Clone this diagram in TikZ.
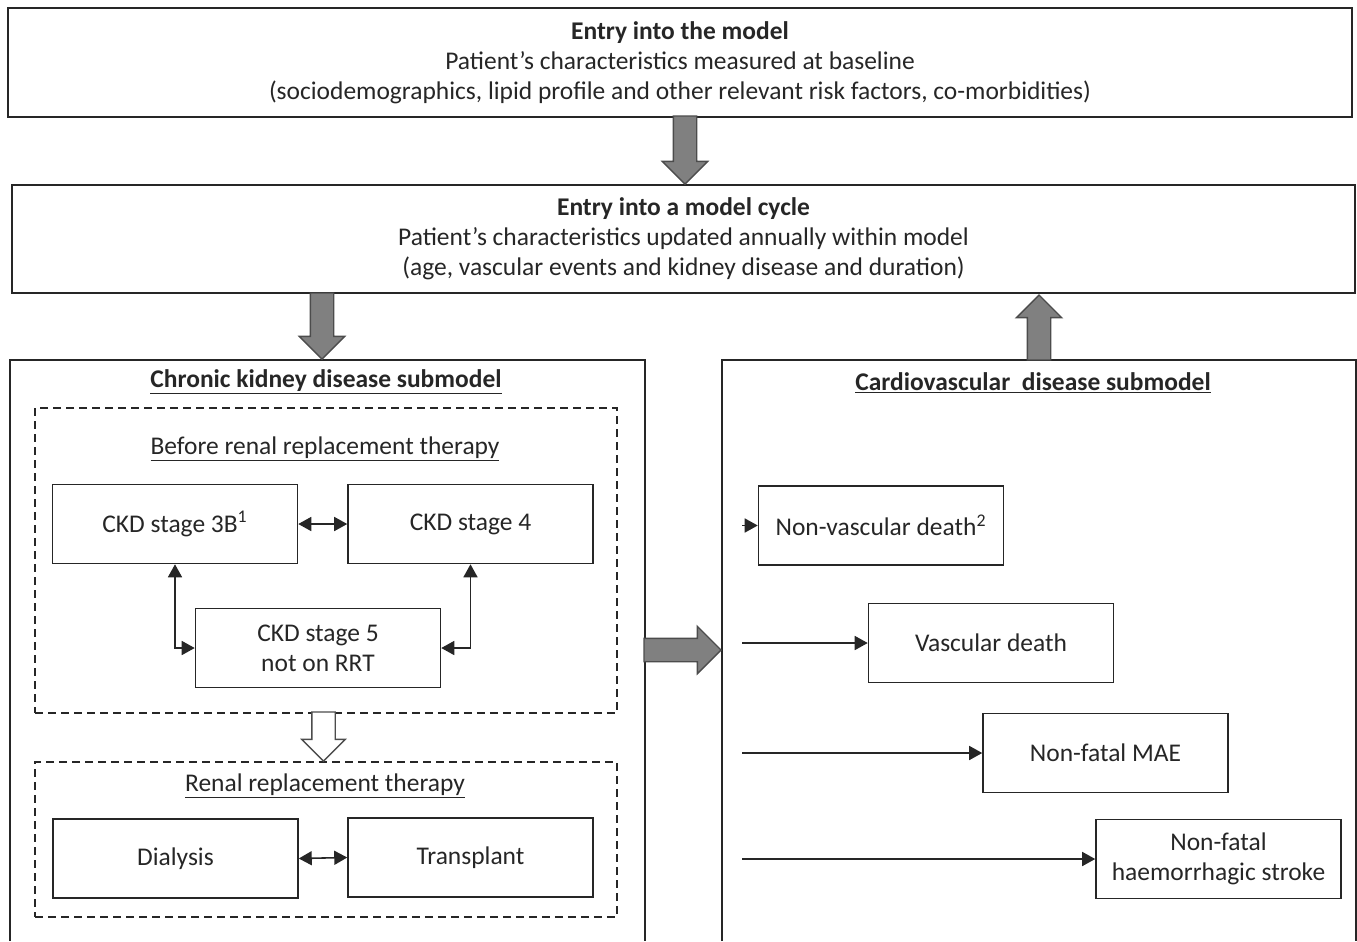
\documentclass[tikz,border=0pt]{standalone}
\usepackage{fontspec}
\setmainfont{Carlito}
\usetikzlibrary{arrows.meta,shapes.arrows,calc}

\begin{document}
\begin{tikzpicture}[x=0.02cm,y=-0.02cm,
  font=\fontsize{14.5}{17}\selectfont, text=black!85,
  box/.style={draw=black!85, line width=0.9pt, align=center, inner sep=0pt},
  state/.style={box, minimum width=4.9cm, minimum height=1.58cm},
  zone/.style={draw=black!85, line width=0.9pt, dash pattern=on 0.16cm off 0.1cm, minimum width=11.64cm, inner sep=0pt},
  frame/.style={draw=black!85, line width=0.9pt},
  tip/.tip={Triangle[length=0.26cm,width=0.28cm]},
  link/.style={line width=0.9pt, draw=black!85, -tip},
  both/.style={line width=0.9pt, draw=black!85, tip-tip},
  fat/.style={single arrow, draw=black!70, fill=black!50, line width=0.8pt, anchor=tip,
    inner xsep=0pt, inner ysep=0.22cm, single arrow head extend=0.22cm, minimum width=1pt}]
  \useasboundingbox (0,0) rectangle (1357,941);

  % top of the model
  \node[box, minimum width=26.88cm, minimum height=2.18cm] (entry) at (680,62.5)
    {\textbf{Entry into the model}\\Patient's characteristics measured at baseline\\
     (sociodemographics, lipid profile and other relevant risk factors, co-morbidities)};
  \node[box, minimum width=26.86cm, minimum height=2.16cm] (cycle) at (683.5,239)
    {\textbf{Entry into a model cycle}\\Patient's characteristics updated annually within model\\
     (age, vascular events and kidney disease and duration)};

  % the two submodels
  \draw[frame] (10,941) -- (10,360) -- (645,360) -- (645,941);
  \draw[frame] (722,941) -- (722,360) -- (1356,360) -- (1356,941);
  \node (ckdT) at (326,382) {\underline{\textbf{Chronic kidney disease submodel}}};
  \node (cvdT) at (1033,383) {\underline{\textbf{Cardiovascular\ \ disease submodel}}};

  % CKD submodel
  \node[zone, minimum height=6.1cm] (pre) at (326,560.5) {};
  \node (preT) at (325,449) {\underline{Before renal replacement therapy}};
  \node[state] (s3b) at (175,524) {CKD stage 3B\textsuperscript{1}};
  \node[state] (s4) at (470.5,524) {CKD stage 4};
  \node[state] (s5) at (318,648) {CKD stage 5\\not on RRT};
  \draw[both] (s3b.east) -- (s4.west);
  \draw[both] (s3b.south) |- (s5.west);
  \draw[both] (s4.south) |- (s5.east);

  \node[zone, minimum height=3.1cm] (rrt) at (326,839.5) {};
  \node (rrtT) at (325,786) {\underline{Renal replacement therapy}};
  \node[state] (dial) at (175.5,858.5) {Dialysis};
  \node[state] (tx) at (470.5,857.5) {Transplant};
  \draw[both] (dial.east) -- (tx.west);

  % CVD submodel
  \coordinate (cv) at (742,0);
  \node[state] (nvd) at (881,525.5) {Non-vascular death\textsuperscript{2}};
  \node[state] (vd) at (991,643) {Vascular death};
  \node[state] (mae) at (1105.5,753) {Non-fatal MAE};
  \node[state] (hs) at (1218.5,859) {Non-fatal\\haemorrhagic stroke};
  \foreach \b in {nvd,vd,mae,hs} \draw[link] (cv |- \b.west) -- (\b.west);

  % block arrows
  \node[fat, rotate=-90, minimum height=1.36cm] (fa) at (685,185) {};
  \node[fat, rotate=-90, minimum height=1.32cm] (fb) at (322,360) {};
  \node[fat, rotate=90, minimum height=1.3cm] (fc) at (1039,294) {};
  \node[fat, minimum height=1.54cm, single arrow head extend=0.24cm] (fd) at (722,650) {};
  \node[fat, fill=white, rotate=-90, minimum height=0.98cm, single arrow head extend=0.2cm] (fe)
    at (323.5,762) {};
\end{tikzpicture}
\end{document}
